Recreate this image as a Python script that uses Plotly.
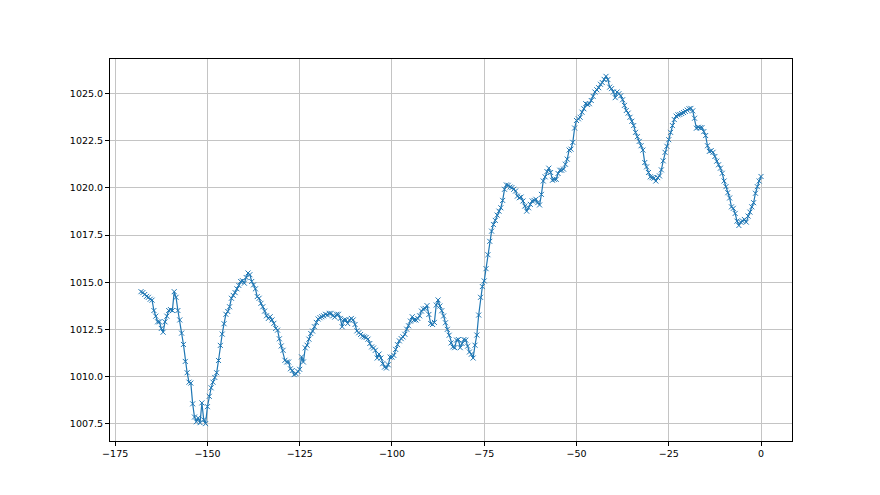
import plotly.graph_objects as go

# Pressure readings (hPa), sampled every half hour, last 168 hours
pressure = [
    1014.5, 1014.45, 1014.35, 1014.25, 1014.2, 1014.1, 1014.05, 1013.5, 1013.2, 1012.9,
    1012.9, 1012.55, 1012.35, 1012.9, 1013.2, 1013.5, 1013.55, 1013.5, 1014.5, 1014.2,
    1013.5, 1013.0, 1012.3, 1011.7, 1010.8, 1010.2, 1009.7, 1009.65, 1008.55, 1007.85,
    1007.6, 1007.8, 1007.55, 1008.6, 1007.7, 1007.5, 1008.4, 1008.95, 1009.4, 1009.7,
    1009.95, 1010.2, 1010.85, 1011.65, 1012.25, 1012.8, 1013.3, 1013.45, 1013.7, 1014.15,
    1014.3, 1014.45, 1014.65,
    1014.83, 1015.04, 1015.08, 1014.95, 1015.25, 1015.49, 1015.4, 1015.04, 1014.86, 1014.65,
    1014.24, 1014.15, 1013.88, 1013.7, 1013.47, 1013.22, 1013.08, 1013.17, 1013.0, 1012.82,
    1012.55, 1012.46, 1012.0, 1011.62, 1011.39, 1010.86, 1010.77, 1010.77, 1010.41, 1010.32,
    1010.1, 1010.15, 1010.27, 1010.38, 1011.04, 1010.77, 1011.52, 1011.66, 1011.98, 1012.28,
    1012.41, 1012.64, 1012.87, 1013.05, 1013.12, 1013.17, 1013.22, 1013.3, 1013.26, 1013.35,
    1013.35, 1013.22, 1013.15, 1013.3, 1013.3,
    1013.08, 1012.64, 1013.0, 1013.0, 1012.81, 1013.0, 1013.08, 1013.0, 1012.76, 1012.42,
    1012.32, 1012.23, 1012.14, 1012.1, 1012.07, 1011.98, 1011.75, 1011.57, 1011.51, 1011.39,
    1010.98, 1011.19, 1010.98, 1010.68, 1010.5, 1010.45, 1010.62, 1011.03, 1011.03, 1011.12,
    1011.44, 1011.69, 1011.89, 1012.01, 1012.1, 1012.24, 1012.51, 1012.69, 1012.94, 1013.17,
    1013.0, 1013.0, 1013.08, 1013.22, 1013.47, 1013.58, 1013.61, 1013.76, 1013.29, 1012.81,
    1012.76, 1012.87, 1013.79, 1014.06,
    1013.74, 1013.49, 1013.21, 1012.85, 1012.5, 1012.19, 1011.78, 1011.57, 1011.53, 1011.93,
    1011.96, 1011.53, 1011.75, 1011.96, 1011.93, 1011.61, 1011.3, 1011.18, 1010.98, 1011.66,
    1012.2, 1013.26, 1014.2,
    1014.77, 1015.07, 1015.72, 1016.46, 1017.17, 1017.71, 1018.06, 1018.28, 1018.56, 1018.77,
    1018.95, 1019.34, 1019.93, 1020.16, 1020.14, 1020.05, 1020.02, 1019.93, 1019.84, 1019.57,
    1019.48, 1019.52, 1019.31, 1019.04, 1018.77, 1018.95, 1019.13, 1019.31, 1019.34, 1019.4,
    1019.22, 1019.1,
    1019.66, 1020.37, 1020.59, 1020.87, 1021.05, 1020.82, 1020.41, 1020.46, 1020.46, 1020.77,
    1020.94, 1020.94, 1021.0, 1021.26, 1021.53, 1022.01, 1022.06, 1022.42, 1023.18, 1023.58,
    1023.67, 1023.75, 1024.02, 1024.2, 1024.47, 1024.43, 1024.47, 1024.64, 1024.86, 1025.09,
    1025.21, 1025.32, 1025.5, 1025.59, 1025.76, 1025.92, 1025.75, 1025.35, 1025.27, 1025.09,
    1024.79, 1025.09, 1025.0, 1024.89, 1024.68, 1024.38, 1024.11, 1023.97, 1023.75, 1023.54,
    1023.31, 1022.95, 1022.72, 1022.47, 1022.24, 1022.01, 1021.35, 1021.12, 1020.82, 1020.59,
    1020.55, 1020.52, 1020.37, 1020.55, 1020.64,
    1020.96, 1021.44, 1021.89, 1022.21, 1022.56, 1022.95, 1023.31, 1023.63, 1023.81, 1023.88,
    1023.9, 1023.95, 1024.0, 1024.06, 1024.13, 1024.2, 1024.22, 1024.09, 1023.7, 1023.17,
    1023.22, 1023.19, 1023.2, 1022.99, 1022.78, 1022.24, 1021.94, 1021.98, 1021.89, 1021.67,
    1021.42, 1021.23, 1021.05, 1020.78, 1020.37, 1020.07, 1019.75, 1019.47, 1019.0, 1018.92,
    1018.65, 1018.24, 1018.01, 1018.19, 1018.24, 1018.33, 1018.19, 1018.51, 1018.72, 1019.0,
    1019.22, 1019.72, 1020.07, 1020.37, 1020.61,
]

# Hours relative to now (half-hour sampling ending at 0)
start_hour = -168
step_hour = 0.5
hours = [start_hour + step_hour * i for i in range(len(pressure))]

x_ticks = [-175, -150, -125, -100, -75, -50, -25, 0]
y_ticks = [1007.5, 1010.0, 1012.5, 1015.0, 1017.5, 1020.0, 1022.5, 1025.0]

color = "#1f77b4"

fig = go.Figure()
fig.add_trace(go.Scatter(
    x=hours, y=pressure, mode="lines+markers",
    line=dict(color=color, width=1.2),
    marker=dict(symbol="x-thin", size=5, line=dict(width=1, color=color), color=color),
    showlegend=False,
))

xmin, xmax = min(hours), max(hours)
ymin, ymax = min(pressure), max(pressure)
xpad = (xmax - xmin) * 0.05
ypad = (ymax - ymin) * 0.05

axis_common = dict(
    showline=True, linecolor="black", linewidth=1, mirror=True,
    ticks="outside", ticklen=4, tickcolor="black", tickwidth=1,
    showgrid=True, gridcolor="#c4c4c4", gridwidth=0.8,
    zeroline=False,
    tickfont=dict(family="DejaVu Sans", size=9.5, color="black"),
)

fig.update_xaxes(range=[xmin - xpad, xmax + xpad], tickvals=x_ticks,
                 ticktext=[str(t).replace("-", "\u2212") for t in x_ticks], **axis_common)
fig.update_yaxes(range=[ymin - ypad, ymax + ypad], tickvals=y_ticks,
                 ticktext=[f"{t:.1f}" for t in y_ticks], **axis_common)

fig.update_layout(
    width=880, height=495,
    margin=dict(l=102, r=96, t=51, b=62),
    paper_bgcolor="white", plot_bgcolor="white",
)

fig.write_html("out.html")
